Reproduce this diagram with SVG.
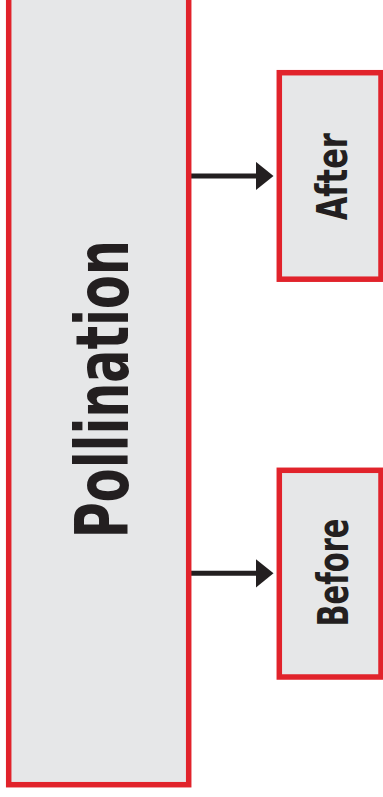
<svg xmlns="http://www.w3.org/2000/svg" width="383" height="797" viewBox="0 0 383 797">
  <style>
    .box { fill: #e6e7e8; stroke: #e1232b; stroke-width: 5.5; }
    .lbl { font-family: "DejaVu Sans Condensed", "DejaVu Sans", "Liberation Sans", sans-serif; font-weight: bold; fill: #231f20; text-anchor: middle; }
    .conn { stroke: #231f20; stroke-width: 5; fill: none; }
  </style>
  <defs>
    <marker id="arrow" markerUnits="userSpaceOnUse" markerWidth="18" markerHeight="29" refX="4.5" refY="14.5" orient="auto">
      <path d="M0,0 L18,14.5 L0,29 Z" fill="#231f20"/>
    </marker>
  </defs>
  <rect width="383" height="797" fill="#ffffff"/>
  <g id="connectors">
    <line class="conn" x1="191" y1="176" x2="260" y2="176" marker-end="url(#arrow)"/>
    <line class="conn" x1="191" y1="573.3" x2="260" y2="573.3" marker-end="url(#arrow)"/>
  </g>
  <g id="pollination">
    <rect class="box" x="8.7" y="-10" width="180" height="794.7"/>
    <text class="lbl" font-size="73" textLength="298" lengthAdjust="spacingAndGlyphs" transform="translate(128.3,389.2) rotate(-90)">Pollination</text>
  </g>
  <g id="after">
    <rect class="box" x="279.3" y="72.7" width="101.7" height="206.5"/>
    <text class="lbl" font-size="43.5" textLength="87" lengthAdjust="spacingAndGlyphs" transform="translate(346.7,176.7) rotate(-90)">After</text>
  </g>
  <g id="before">
    <rect class="box" x="279.3" y="470.3" width="101.7" height="206.7"/>
    <text class="lbl" font-size="43.5" textLength="108" lengthAdjust="spacingAndGlyphs" transform="translate(347.5,572.5) rotate(-90)">Before</text>
  </g>
</svg>
